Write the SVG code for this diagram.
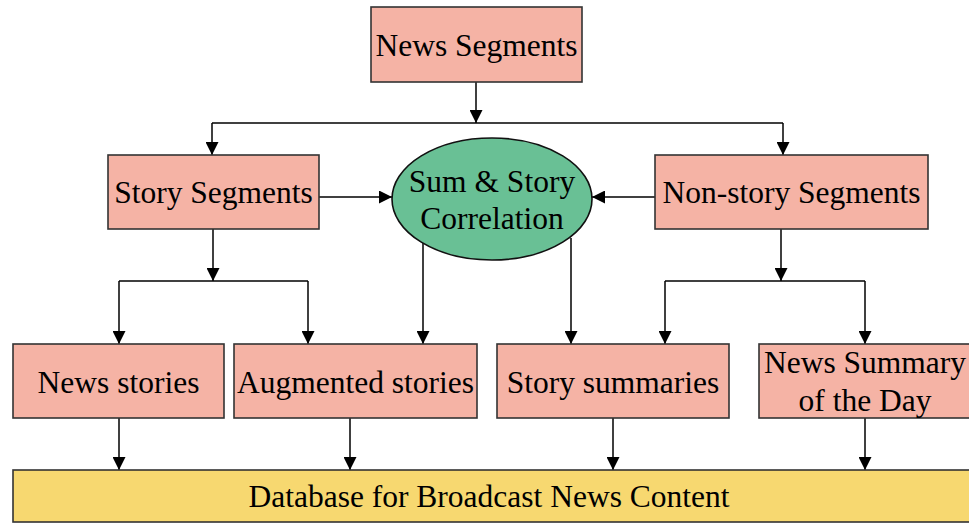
<svg xmlns="http://www.w3.org/2000/svg" width="969" height="523" viewBox="0 0 969 523">
  <defs>
    <style>
      .box { fill: #F5B3A5; stroke: #333; stroke-width: 1.6; }
      .oval { fill: #69C095; stroke: #111; stroke-width: 1.6; }
      .db { fill: #F7D870; stroke: #333; stroke-width: 1.6; }
      .lbl { font-family: "Liberation Serif", "Times New Roman", serif; font-size: 31.5px; fill: #000; text-anchor: middle; }
      .wire { fill: none; stroke: #000; stroke-width: 1.5; }
      .arr { marker-end: url(#head); }
    </style>
    <marker id="head" viewBox="0 0 12 12" markerWidth="13" markerHeight="13" refX="12" refY="6" orient="auto" markerUnits="userSpaceOnUse">
      <path d="M0,0 L12,6 L0,12 z" fill="#000"/>
    </marker>
  </defs>

  <rect width="969" height="523" fill="#fff"/>

  <!-- connectors -->
  <g id="connectors">
    <line class="wire arr" x1="476" y1="82" x2="476" y2="123"/>
    <line class="wire" x1="212" y1="123" x2="783" y2="123"/>
    <line class="wire arr" x1="212" y1="123" x2="212" y2="155"/>
    <line class="wire arr" x1="783" y1="123" x2="783" y2="155"/>

    <line class="wire arr" x1="319" y1="197" x2="392" y2="197"/>
    <line class="wire arr" x1="655" y1="197" x2="592" y2="197"/>

    <line class="wire arr" x1="213" y1="229" x2="213" y2="281"/>
    <line class="wire" x1="119" y1="281" x2="308" y2="281"/>
    <line class="wire arr" x1="119" y1="281" x2="119" y2="344"/>
    <line class="wire arr" x1="308" y1="281" x2="308" y2="344"/>

    <line class="wire arr" x1="781" y1="229" x2="781" y2="281"/>
    <line class="wire" x1="665" y1="281" x2="865" y2="281"/>
    <line class="wire arr" x1="665" y1="281" x2="665" y2="344"/>
    <line class="wire arr" x1="865" y1="281" x2="865" y2="344"/>

    <line class="wire arr" x1="423" y1="238" x2="423" y2="344"/>
    <line class="wire arr" x1="571" y1="238" x2="571" y2="344"/>

    <line class="wire arr" x1="119" y1="418" x2="119" y2="470"/>
    <line class="wire arr" x1="350" y1="418" x2="350" y2="470"/>
    <line class="wire arr" x1="613" y1="418" x2="613" y2="470"/>
    <line class="wire arr" x1="865" y1="418" x2="865" y2="470"/>
  </g>

  <g id="news-segments">
    <rect class="box" x="371" y="7" width="211" height="75"/>
    <text class="lbl" x="476.5" y="56">News Segments</text>
  </g>

  <g id="story-segments">
    <rect class="box" x="108" y="155" width="211" height="74"/>
    <text class="lbl" x="213.5" y="203">Story Segments</text>
  </g>

  <g id="correlation">
    <ellipse class="oval" cx="492" cy="199" rx="100" ry="61"/>
    <text class="lbl" x="492" y="192">Sum &amp; Story</text>
    <text class="lbl" x="492" y="229">Correlation</text>
  </g>

  <g id="non-story-segments">
    <rect class="box" x="655" y="155" width="273" height="74"/>
    <text class="lbl" x="791.5" y="203">Non-story Segments</text>
  </g>

  <g id="news-stories">
    <rect class="box" x="13" y="344" width="211" height="74"/>
    <text class="lbl" x="118.5" y="393">News stories</text>
  </g>

  <g id="augmented-stories">
    <rect class="box" x="234" y="344" width="243" height="74"/>
    <text class="lbl" x="355.5" y="393">Augmented stories</text>
  </g>

  <g id="story-summaries">
    <rect class="box" x="497" y="344" width="232" height="74"/>
    <text class="lbl" x="613" y="393">Story summaries</text>
  </g>

  <g id="news-summary-day">
    <rect class="box" x="759" y="344" width="214" height="74"/>
    <text class="lbl" x="865" y="373">News Summary</text>
    <text class="lbl" x="865" y="411">of the Day</text>
  </g>

  <g id="database">
    <rect class="db" x="13" y="470" width="960" height="52"/>
    <text class="lbl" x="489" y="507">Database for Broadcast News Content</text>
  </g>
</svg>
